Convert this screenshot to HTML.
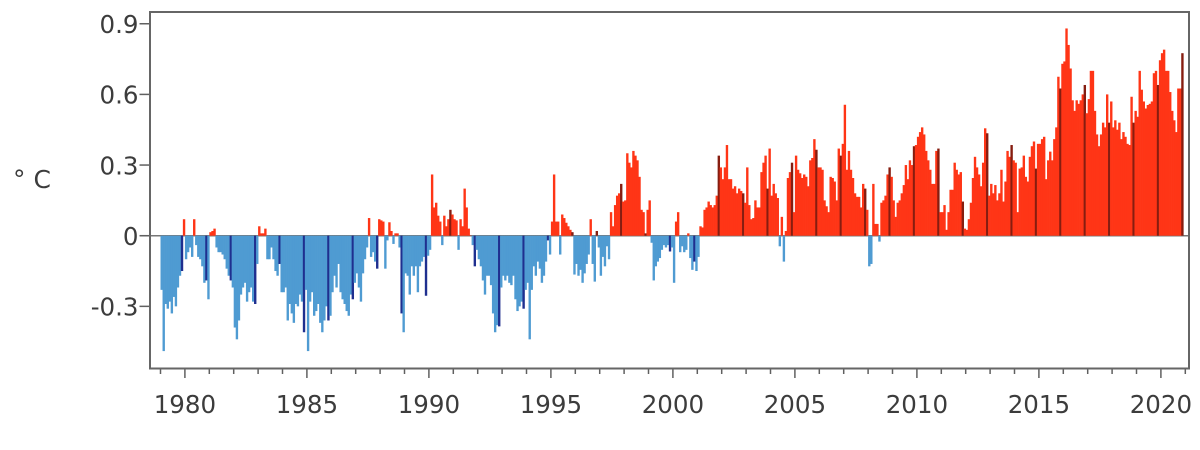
<!DOCTYPE html>
<html>
<head>
<meta charset="utf-8">
<style>
html,body{margin:0;padding:0;background:#fff;}
svg{display:block;}
text{font-family:"DejaVu Sans","Liberation Sans",sans-serif;fill:#3c3c3c;}
</style>
</head>
<body>
<svg id="chart" width="1200" height="450" viewBox="0 0 1200 450" xmlns="http://www.w3.org/2000/svg">
<rect x="0" y="0" width="1200" height="450" fill="#ffffff"/>
<line x1="140" y1="235.7" x2="1189" y2="235.7" stroke="#777" stroke-width="1.5"/>
<g id="bars"></g>
<g id="ticks" stroke="#606060" stroke-width="1.5"></g>
<rect x="150" y="12" width="1039" height="356.5" fill="none" stroke="#666" stroke-width="2"/>
<g font-size="24.5" text-anchor="end">
<text x="138.5" y="33.1">0.9</text>
<text x="138.5" y="103.7">0.6</text>
<text x="138.5" y="174.4">0.3</text>
<text x="138.5" y="245">0</text>
<text x="138.5" y="315.7">-0.3</text>
</g>
<text x="13" y="188" font-size="25">° C</text>
<g font-size="24.5" text-anchor="middle">
<text x="184.9" y="413">1980</text>
<text x="306.9" y="413">1985</text>
<text x="428.9" y="413">1990</text>
<text x="550.9" y="413">1995</text>
<text x="672.9" y="413">2000</text>
<text x="794.9" y="413">2005</text>
<text x="916.9" y="413">2010</text>
<text x="1038.9" y="413">2015</text>
<text x="1160.9" y="413">2020</text>
</g>
</svg>
<script>
(function(){
var D=[
[-0.23,-0.49,-0.29,-0.31,-0.28,-0.33,-0.26,-0.30,-0.22,-0.17,-0.15,0.07],
[-0.10,-0.07,-0.05,-0.09,0.07,-0.04,-0.09,-0.10,-0.13,-0.20,-0.19,-0.27],
[0.015,0.02,0.03,-0.05,-0.07,-0.07,-0.08,-0.10,-0.14,-0.17,-0.19,-0.22],
[-0.39,-0.44,-0.36,-0.25,-0.22,-0.20,-0.28,-0.24,-0.22,-0.28,-0.29,-0.12],
[0.04,0.01,0.01,0.03,-0.10,-0.10,-0.05,-0.10,-0.15,-0.17,-0.12,-0.24],
[-0.24,-0.22,-0.36,-0.29,-0.33,-0.37,-0.29,-0.30,-0.25,-0.28,-0.41,-0.23],
[-0.49,-0.28,-0.24,-0.34,-0.32,-0.29,-0.37,-0.41,-0.36,-0.30,-0.36,-0.34],
[-0.24,-0.17,-0.22,-0.12,-0.24,-0.27,-0.29,-0.32,-0.34,-0.25,-0.27,-0.20],
[-0.16,-0.22,-0.28,-0.16,-0.10,-0.05,0.075,-0.09,-0.07,-0.11,-0.14,0.07],
[0.065,0.06,-0.14,-0.02,0.057,0.02,-0.035,0.01,0.01,-0.05,-0.33,-0.41],
[-0.16,-0.17,-0.25,-0.13,-0.17,-0.13,-0.24,-0.13,-0.11,-0.09,-0.255,-0.085],
[-0.06,0.26,0.12,0.14,0.085,0.06,-0.04,0.085,0.04,0.07,0.11,0.09],
[0.07,0.065,-0.06,0.07,0.04,0.20,0.12,0.03,0.0,-0.04,-0.13,-0.06],
[-0.10,-0.13,-0.19,-0.25,-0.17,-0.17,-0.21,-0.33,-0.41,-0.38,-0.385,-0.22],
[-0.17,-0.19,-0.17,-0.20,-0.21,-0.17,-0.27,-0.32,-0.30,-0.28,-0.31,-0.23],
[-0.20,-0.44,-0.23,-0.13,-0.17,-0.11,-0.14,-0.20,-0.17,-0.11,-0.02,-0.08],
[0.06,0.26,0.06,0.06,-0.08,0.09,0.075,0.055,0.04,0.025,0.015,-0.165],
[-0.12,-0.17,-0.145,-0.20,-0.16,-0.12,-0.08,0.07,-0.12,-0.195,0.02,-0.05],
[-0.17,-0.09,-0.13,-0.045,-0.10,0.10,0.04,0.13,0.17,0.18,0.22,0.145],
[0.15,0.35,0.31,0.29,0.36,0.34,0.32,0.25,0.11,0.10,0.01,0.11],
[0.15,-0.03,-0.19,-0.13,-0.11,-0.095,-0.06,-0.04,-0.05,-0.04,-0.067,-0.05],
[-0.20,0.06,0.10,-0.07,-0.045,-0.07,-0.06,0.01,-0.095,-0.145,-0.11,-0.15],
[-0.09,0.04,0.035,0.11,0.12,0.145,0.13,0.12,0.13,0.17,0.34,0.29],
[0.24,0.29,0.385,0.24,0.24,0.20,0.21,0.18,0.20,0.19,0.18,0.14],
[0.29,0.13,0.07,0.075,0.15,0.12,0.12,0.27,0.31,0.34,0.20,0.37],
[0.17,0.22,0.18,0.16,-0.045,0.08,-0.11,0.02,0.245,0.27,0.31,0.10],
[0.34,0.28,0.265,0.245,0.26,0.25,0.21,0.32,0.33,0.41,0.365,0.29],
[0.29,0.28,0.15,0.125,0.10,0.25,0.245,0.23,0.15,0.37,0.34,0.39],
[0.556,0.28,0.36,0.28,0.245,0.18,0.165,0.165,0.12,0.22,0.20,0.11],
[-0.13,-0.12,0.22,0.05,0.05,-0.025,0.14,0.15,0.17,0.26,0.29,0.25],
[0.15,0.08,0.14,0.15,0.18,0.215,0.30,0.24,0.32,0.30,0.38,0.385],
[0.42,0.44,0.46,0.43,0.36,0.32,0.28,0.22,0.22,0.36,0.37,0.10],
[0.10,0.13,0.025,0.10,0.195,0.195,0.31,0.28,0.26,0.27,0.145,0.03],
[0.025,0.07,0.14,0.245,0.335,0.29,0.26,0.21,0.31,0.456,0.435,0.17],
[0.22,0.18,0.215,0.15,0.18,0.28,0.145,0.23,0.36,0.335,0.385,0.32],
[0.31,0.10,0.285,0.29,0.34,0.25,0.23,0.335,0.38,0.40,0.285,0.39],
[0.39,0.41,0.42,0.24,0.32,0.357,0.32,0.41,0.46,0.675,0.625,0.73],
[0.74,0.88,0.81,0.71,0.575,0.53,0.575,0.56,0.575,0.60,0.64,0.52],
[0.58,0.70,0.70,0.53,0.43,0.38,0.43,0.48,0.46,0.60,0.48,0.57],
[0.46,0.49,0.45,0.48,0.41,0.44,0.42,0.39,0.385,0.59,0.48,0.53],
[0.505,0.70,0.62,0.57,0.54,0.555,0.56,0.57,0.69,0.70,0.64,0.745],
[0.775,0.79,0.70,0.70,0.61,0.53,0.49,0.44,0.625,0.625,0.775]
];
var NS="http://www.w3.org/2000/svg";
var X0=160.5, YR=24.4, MW=YR/12, Z=235.7, S=235.5;
var g=document.getElementById("bars");
var i=0;
for(var y=0;y<D.length;y++){
  for(var m=0;m<D[y].length;m++){
    var v=D[y][m];
    var x=X0+i*MW;
    var r=document.createElementNS(NS,"rect");
    var h=Math.abs(v)*S;
    r.setAttribute("x",x.toFixed(2));
    r.setAttribute("width",(MW+0.35).toFixed(3));
    if(v>=0){r.setAttribute("y",(Z-h).toFixed(2));}
    else{r.setAttribute("y",Z.toFixed(2));}
    r.setAttribute("height",Math.max(h,0.3).toFixed(2));
    var dark=(m===10);
    var col;
    if(v>=0){col=dark?"#861d10":"#ff3516";}
    else{col=dark?"#1f2f8f":"#4f9bd2";}
    r.setAttribute("fill",col);
    g.appendChild(r);
    i++;
  }
}
var t=document.getElementById("ticks");
for(var k=0;k<=42;k++){
  var xx=X0+k*YR;
  var yr=1979+k;
  var major=(yr%5===0);
  var l=document.createElementNS(NS,"line");
  l.setAttribute("x1",xx.toFixed(2));l.setAttribute("x2",xx.toFixed(2));
  l.setAttribute("y1","368.5");l.setAttribute("y2",major?"378":"374");
  t.appendChild(l);
}
var yt=[23.75,94.4,165.05,235.7,306.35];
for(var q=0;q<yt.length;q++){
  var l2=document.createElementNS(NS,"line");
  l2.setAttribute("x1","139.5");l2.setAttribute("x2","150");
  l2.setAttribute("y1",yt[q]);l2.setAttribute("y2",yt[q]);
  t.appendChild(l2);
}
})();
</script>
</body>
</html>
